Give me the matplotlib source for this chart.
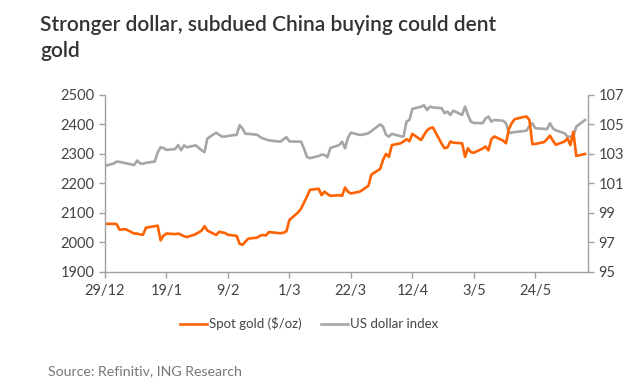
import matplotlib
matplotlib.use("Agg")
import matplotlib.pyplot as plt
import pandas as pd

# business days from 29/12/2023 to 10/6/2024
dates = pd.bdate_range("2023-12-29", "2024-06-10")

# Spot gold ($/oz), one row per week
gold = [
    2063,
    2063, 2062, 2043, 2044, 2045,
    2030, 2030, 2027, 2026, 2050,
    2055, 2057, 2007, 2023, 2030,
    2028, 2030, 2026, 2021, 2018,
    2028, 2034, 2040, 2055, 2040,
    2025, 2036, 2034, 2032, 2026,
    2022, 1995, 1992, 2003, 2013,
    2016, 2023, 2025, 2024, 2035,
    2032, 2031, 2033, 2038, 2076,
    2102, 2115, 2135, 2155, 2178,
    2182, 2160, 2172, 2164, 2158,
    2160, 2158, 2186, 2172, 2166,
    2172, 2178, 2185, 2192, 2230,
    2249, 2280, 2300, 2290, 2330,
    2336, 2342, 2350, 2343, 2368,
    2347, 2364, 2380, 2387, 2390,
    2335, 2319, 2322, 2342, 2338,
    2336, 2290, 2319, 2306, 2304,
    2318, 2325, 2312, 2350, 2359,
    2345, 2336, 2385, 2405, 2418,
    2425, 2427, 2415, 2333, 2334,
    2340, 2350, 2362, 2345, 2331,
    2342, 2353, 2330, 2375, 2293,
    2300,
]

# US dollar index
dxy = [
    102.19,
    102.35, 102.48, 102.45, 102.42, 102.37,
    102.25, 102.55, 102.36, 102.33, 102.40,
    102.48, 103.10, 103.45, 103.40, 103.27,
    103.33, 103.60, 103.25, 103.58, 103.45,
    103.58, 103.42, 103.25, 103.12, 104.05,
    104.44, 104.30, 104.17, 104.17, 104.22,
    104.30, 104.95, 104.72, 104.36, 104.36,
    104.30, 104.15, 104.05, 103.98, 103.92,
    103.85, 103.83, 104.00, 104.13, 103.85,
    103.83, 103.83, 103.35, 102.80, 102.71,
    102.86, 102.95, 102.93, 102.78, 103.40,
    103.60, 103.83, 103.38, 104.10, 104.44,
    104.29, 104.30, 104.35, 104.40, 104.55,
    105.00, 104.85, 104.30, 104.17, 104.36,
    104.20, 104.17, 105.19, 105.30, 106.05,
    106.20, 106.30, 105.98, 106.20, 106.15,
    106.10, 105.76, 105.87, 105.64, 105.93,
    105.64, 106.21, 105.64, 105.19, 105.10,
    105.08, 105.40, 105.53, 105.19, 105.30,
    105.25, 105.08, 104.40, 104.45, 104.48,
    104.55, 104.58, 104.90, 105.08, 104.74,
    104.70, 104.67, 105.08, 104.74, 104.60,
    104.40, 104.17, 104.17, 104.17, 104.85,
    105.30,
]

tick_dates = ["2023-12-29", "2024-01-19", "2024-02-09", "2024-03-01",
              "2024-03-22", "2024-04-12", "2024-05-03", "2024-05-24"]
tick_labels = ["29/12", "19/1", "9/2", "1/3", "22/3", "12/4", "3/5", "24/5"]
left_ticks = [1900, 2000, 2100, 2200, 2300, 2400, 2500]
right_ticks = [95, 97, 99, 101, 103, 105, 107]

orange = "#FF6200"
grey = "#A6A6A6"
text_col = "#444444"
spine_col = "#A0A0A0"

plt.rcParams["font.family"] = ["Lato", "DejaVu Sans"]

fig = plt.figure(figsize=(6.44, 3.89), dpi=100)
ax = fig.add_axes([0.163, 0.301, 0.750, 0.455])
ax2 = ax.twinx()

ax2.plot(dates, dxy, color=grey, lw=1.9, label="US dollar index")
ax.plot(dates, gold, color=orange, lw=1.9, label="Spot gold ($/oz)")

# gold on top of the dollar line
ax.set_zorder(ax2.get_zorder() + 1)
ax.patch.set_visible(False)

ax.set_xlim(pd.Timestamp("2023-12-29"), pd.Timestamp("2024-06-11"))
ax.set_ylim(1900, 2500)
ax2.set_ylim(95, 107)
ax.set_yticks(left_ticks)
ax2.set_yticks(right_ticks)
ax.set_xticks([pd.Timestamp(d) for d in tick_dates])
ax.set_xticklabels(tick_labels)

for a in (ax, ax2):
    for s in a.spines.values():
        s.set_color(spine_col)
        s.set_linewidth(1)
    a.spines["top"].set_visible(False)
    a.tick_params(colors=spine_col, labelcolor=text_col, labelsize=10.5,
                  length=4, width=1)
ax.spines["right"].set_visible(False)
ax2.spines["left"].set_visible(False)
ax2.spines["bottom"].set_visible(False)
ax.tick_params(axis="x", pad=5)

fig.text(0.062, 0.962, "Stronger dollar, subdued China buying could dent\ngold",
         fontsize=15, color="#333333", weight="semibold", va="top",
         linespacing=1.4)

h1, l1 = ax.get_legend_handles_labels()
h2, l2 = ax2.get_legend_handles_labels()
fig.legend(h1 + h2, l1 + l2, loc="center", bbox_to_anchor=(0.48, 0.168),
           ncol=2, frameon=False, fontsize=9.5, handlelength=2.0,
           handletextpad=0.15, columnspacing=1.5, labelcolor=text_col)

fig.text(0.075, 0.035, "Source: Refinitiv, ING Research", fontsize=10.2,
         color="#777777")

fig.savefig("out.png", dpi=100)
